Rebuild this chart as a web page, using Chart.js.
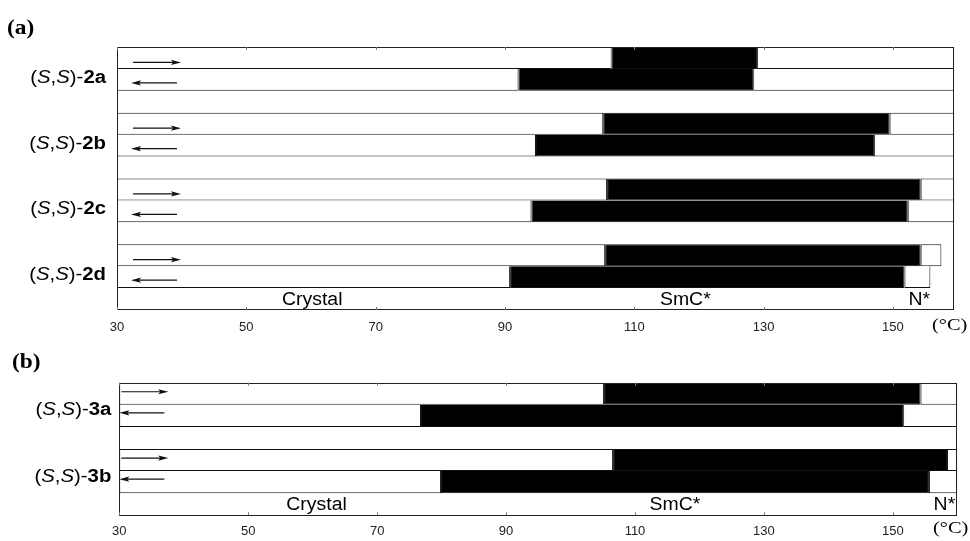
<!DOCTYPE html>
<html>
<head>
<meta charset="utf-8">
<script src="https://cdn.jsdelivr.net/npm/chart.js@4.4.1/dist/chart.umd.min.js"></script>
<style>
  html, body { margin: 0; padding: 0; background: #fff; width: 970px; height: 541px; overflow: hidden; }
  .wrap { position: absolute; left: 0; width: 970px; }
  #wa { top: 0; height: 345px; }
  #wb { top: 345px; height: 204px; }
  canvas { display: block; }
</style>
</head>
<body>
<div class="wrap" id="wa"><canvas id="ca" width="970" height="345"></canvas></div>
<div class="wrap" id="wb"><canvas id="cb" width="970" height="204"></canvas></div>
<script>
// ---------- shared ----------
const tickValues = [30, 50, 70, 90, 110, 130, 150];
const phaseNames = ['Crystal', 'SmC*', 'N*'];

// ---------- panel (a) ----------
const rowsA = ['2a heating', '2a cooling', 'gap 1', '2b heating', '2b cooling', 'gap 2',
               '2c heating', '2c cooling', 'gap 3', '2d heating', '2d cooling', 'phase labels'];
const compoundsA = ['2a', '2b', '2c', '2d'];
const crystalEndA = [106.5, 92.1, null, 105.2, 94.8, null, 105.8, 94.1, null, 105.5, 90.8, null];
const smcEndA     = [129.0, 128.4, null, 149.5, 147.1, null, 154.3, 152.3, null, 154.3, 151.8, null];
const upperEndA   = [159.5, 159.5, null, 159.5, 159.5, null, 159.5, 159.5, null, 157.5, 155.8, null];
const phaseLabelPosA = [60.2, 117.9, 154.1];
const axisMinA = 30, axisMaxA = 159.5;

// ---------- panel (b) ----------
const rowsB = ['3a heating', '3a cooling', 'gap 1', '3b heating', '3b cooling', 'phase labels'];
const compoundsB = ['3a', '3b'];
const crystalEndB = [105.2, 76.8, null, 106.6, 79.9, null];
const smcEndB     = [154.3, 151.6, null, 158.4, 155.6, null];
const upperEndB   = [160.0, 160.0, null, 160.0, 160.0, null];
const phaseLabelPosB = [60.6, 116.2, 158.0];
const axisMinB = 30, axisMaxB = 160;

const SANS = '"Liberation Sans", Arial, Helvetica, sans-serif';
const SERIF = '"Liberation Serif", "Times New Roman", serif';

function drawScaledText(ctx, text, x, y, font, sx, align) {
  ctx.save();
  ctx.font = font;
  ctx.textBaseline = 'middle';
  const w = ctx.measureText(text).width * sx;
  let x0 = x;
  if (align === 'center') x0 = x - w / 2;
  else if (align === 'right') x0 = x - w;
  ctx.translate(x0, y);
  ctx.scale(sx, 1);
  ctx.textAlign = 'left';
  ctx.fillText(text, 0, 0);
  ctx.restore();
}

function drawCompoundLabel(ctx, code, rightX, y, size, sx) {
  const reg = `${size}px ${SANS}`;
  const ita = `italic ${size}px ${SANS}`;
  const bold = `bold ${size}px ${SANS}`;
  const parts = [['(', reg], ['S', ita], [',', reg], ['S', ita], [')-', reg], [code, bold]];
  ctx.save();
  ctx.textBaseline = 'middle';
  ctx.textAlign = 'left';
  let w = 0;
  parts.forEach(p => { ctx.font = p[1]; w += ctx.measureText(p[0]).width; });
  ctx.translate(rightX - w * sx, y);
  ctx.scale(sx, 1);
  let x = 0;
  parts.forEach(p => { ctx.font = p[1]; ctx.fillStyle = '#000'; ctx.fillText(p[0], x, 0); x += ctx.measureText(p[0]).width; });
  ctx.restore();
}

function drawArrow(ctx, tail, tip, y) {
  const dir = tip > tail ? 1 : -1;
  ctx.save();
  ctx.strokeStyle = '#111';
  ctx.fillStyle = '#111';
  ctx.lineWidth = 1.2;
  ctx.beginPath();
  ctx.moveTo(tail, y);
  ctx.lineTo(tip - dir * 6, y);
  ctx.stroke();
  ctx.beginPath();
  ctx.moveTo(tip, y);
  ctx.lineTo(tip - dir * 10, y - 2.6);
  ctx.lineTo(tip - dir * 8, y);
  ctx.lineTo(tip - dir * 10, y + 2.6);
  ctx.closePath();
  ctx.fill();
  ctx.restore();
}

function buildPanel(canvasId, d, st) {
  const isCooling = d.rows.map(r => r.endsWith('cooling'));
  const seg = (a, b) => a.map((s, i) => (s == null || b[i] == null) ? null : [s, b[i]]);
  const crystalStart = d.crystalEnd.map(v => v == null ? null : d.min);
  const bw = (c) => ({ left: 1, right: 1, top: isCooling[c.dataIndex] ? 0 : 1, bottom: 1 });
  const common = {
    borderColor: '#111', borderWidth: bw, borderSkipped: false, grouped: false,
    barPercentage: 1, categoryPercentage: 1, inflateAmount: 0
  };

  const overlay = {
    id: 'overlay-' + canvasId,
    afterDraw(chart) {
      const ctx = chart.ctx;
      const a = chart.chartArea;
      const xs = chart.scales.x, ys = chart.scales.y;
      // frame
      ctx.save();
      ctx.strokeStyle = '#222';
      ctx.lineWidth = 1;
      ctx.strokeRect(Math.round(a.left) + 0.5, Math.round(a.top) + 0.5,
                     Math.round(a.right - a.left) - 1, Math.round(a.bottom - a.top) - 1);
      // inner tick marks
      ctx.strokeStyle = '#777';
      tickValues.forEach(v => {
        const px = Math.round(xs.getPixelForValue(v)) + 0.5;
        ctx.beginPath();
        ctx.moveTo(px, a.bottom); ctx.lineTo(px, a.bottom - 3);
        ctx.moveTo(px, a.top); ctx.lineTo(px, a.top + 3);
        ctx.stroke();
      });
      ctx.restore();
      // arrows
      d.rows.forEach((r, i) => {
        const yc = ys.getPixelForValue(i);
        if (r.endsWith('heating')) drawArrow(ctx, a.left + st.heatArrow[0], a.left + st.heatArrow[1], yc + st.heatArrow[2]);
        if (r.endsWith('cooling')) drawArrow(ctx, a.left + st.coolArrow[0], a.left + st.coolArrow[1], yc + st.coolArrow[2]);
      });
      // compound labels
      ctx.fillStyle = '#000';
      d.compounds.forEach(code => {
        const h = d.rows.indexOf(code + ' heating');
        const c = d.rows.indexOf(code + ' cooling');
        const y = (ys.getPixelForValue(h) + ys.getPixelForValue(c)) / 2 + st.labelDy;
        drawCompoundLabel(ctx, code, a.left - st.labelGap, y, 18, 1.13);
      });
      // phase labels in the last row
      const yl = ys.getPixelForValue(d.rows.length - 1) + 1;
      ctx.fillStyle = '#000';
      phaseNames.forEach((name, i) => {
        drawScaledText(ctx, name, xs.getPixelForValue(d.phasePos[i]), yl, `18px ${SANS}`, 1.08, 'center');
      });
      // panel tag and unit
      drawScaledText(ctx, st.tag, st.tagPos[0], st.tagPos[1], `bold 20px ${SERIF}`, 1.17, 'left');
      drawScaledText(ctx, '(\u00B0C)', st.unitPos[0], a.bottom + st.unitPos[1], `17px ${SERIF}`, 1.2, 'left');
    }
  };

  return new Chart(document.getElementById(canvasId), {
    type: 'bar',
    data: {
      labels: d.rows,
      datasets: [
        Object.assign({ label: 'Crystal', data: seg(crystalStart, d.crystalEnd), backgroundColor: '#fff' }, common),
        Object.assign({ label: 'SmC*', data: seg(d.crystalEnd, d.smcEnd), backgroundColor: '#000' }, common),
        Object.assign({ label: 'N* / Iso', data: seg(d.smcEnd, d.upperEnd), backgroundColor: '#fff' }, common)
      ]
    },
    options: {
      indexAxis: 'y',
      responsive: false,
      animation: false,
      devicePixelRatio: 1,
      layout: { padding: st.padding },
      plugins: { legend: { display: false }, tooltip: { enabled: false } },
      scales: {
        x: {
          type: 'linear', min: d.min, max: d.max,
          afterBuildTicks: ax => { ax.ticks = tickValues.map(v => ({ value: v })); },
          grid: { display: false, drawTicks: false },
          border: { display: false },
          ticks: { color: '#222', font: { family: SANS, size: 13 }, padding: st.tickPad, maxRotation: 0, autoSkip: false }
        },
        y: {
          type: 'category', display: false
        }
      }
    },
    plugins: [overlay]
  });
}

buildPanel('ca',
  { rows: rowsA, compounds: compoundsA, crystalEnd: crystalEndA, smcEnd: smcEndA, upperEnd: upperEndA,
    phasePos: phaseLabelPosA, min: axisMinA, max: axisMaxA },
  { padding: { left: 117, right: 15.7, top: 47, bottom: 0.2 }, tickPad: 9.6,
    heatArrow: [16, 64, 4.5], coolArrow: [60, 14, 3], labelGap: 11, labelDy: 9,
    tag: '(a)', tagPos: [7, 29], unitPos: [932, 16] });

buildPanel('cb',
  { rows: rowsB, compounds: compoundsB, crystalEnd: crystalEndB, smcEnd: smcEndB, upperEnd: upperEndB,
    phasePos: phaseLabelPosB, min: axisMinB, max: axisMaxB },
  { padding: { left: 119.3, right: 12.7, top: 37.7, bottom: 0.7 }, tickPad: 8.7,
    heatArrow: [2, 49, -2], coolArrow: [45, 0, -3], labelGap: 8, labelDy: 5.5,
    tag: '(b)', tagPos: [12, 18], unitPos: [933, 13] });
</script>
</body>
</html>
